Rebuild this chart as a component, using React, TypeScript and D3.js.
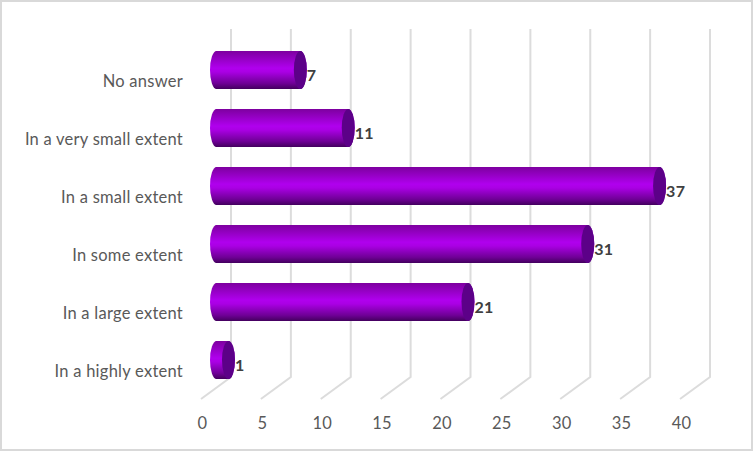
import * as React from "react";
import * as d3 from "d3";

const categories = [
  "No answer",
  "In a very small extent",
  "In a small extent",
  "In some extent",
  "In a large extent",
  "In a highly extent",
];
const values = [7, 11, 37, 31, 21, 1];
const ticks = [0, 5, 10, 15, 20, 25, 30, 35, 40];

const WIDTH = 753;
const HEIGHT = 451;
const WALL_TOP = 29;
const WALL_BOTTOM = 377;
const DEPTH_X = 30;
const DEPTH_Y = 22;
const CAP_RX = 6.5;
const FONT = "Lato, sans-serif";

// back wall of the 3d box, the floor runs forward from it
const x = d3.scaleLinear().domain([0, 40]).range([231, 710]);
const y = d3
  .scaleBand<string>()
  .domain(categories)
  .range([51, 379])
  .paddingInner(20 / 58)
  .paddingOuter(0);
// bars sit half way into the depth of the box
const barX = (v: number) => x(v) - 14.5;

export default function App() {
  const h = y.bandwidth();
  const ry = h / 2;

  return (
    <svg
      width={WIDTH}
      height={HEIGHT}
      style={{ position: "absolute", left: 0, top: 0, background: "#fff" }}
    >
      <defs>
        <linearGradient id="tube" x1="0" y1="0" x2="0" y2="1">
          <stop offset="0" stopColor="#7d009f" />
          <stop offset="0.45" stopColor="#b000ee" />
          <stop offset="0.55" stopColor="#aa00e4" />
          <stop offset="0.85" stopColor="#6f0096" />
          <stop offset="1" stopColor="#43005e" />
        </linearGradient>
      </defs>

      <rect x={1} y={1} width={WIDTH - 2} height={HEIGHT - 2} fill="#fff" stroke="#d9d9d9" strokeWidth={2} />

      {/* Grid */}
      {ticks.map((t) => (
        <path
          key={`grid-${t}`}
          d={`M${x(t)},${WALL_TOP}V${WALL_BOTTOM}l${-DEPTH_X},${DEPTH_Y}`}
          fill="none"
          stroke="#dcdcdc"
          strokeWidth={2}
        />
      ))}

      {/* Bars */}
      {categories.map((c, i) => {
        const top = y(c) ?? 0;
        const cx = barX(values[i]);
        const x0 = barX(0);
        return (
          <g key={c}>
            <path
              d={`M${x0},${top}H${cx}A${CAP_RX},${ry} 0 0 1 ${cx},${top + h}H${x0}A${CAP_RX},${ry} 0 0 1 ${x0},${top}Z`}
              fill="url(#tube)"
            />
            <ellipse cx={cx} cy={top + ry} rx={CAP_RX} ry={ry} fill="#5c0088" />
            <text
              x={cx + CAP_RX}
              y={top + ry + 5}
              dy="0.35em"
              fontFamily={FONT}
              fontWeight={700}
              fontSize={16}
              letterSpacing={0.3}
              fill="#404040"
            >
              {values[i]}
            </text>
          </g>
        );
      })}

      {/* Category labels */}
      {categories.map((c) => (
        <text
          key={`cat-${c}`}
          x={183}
          y={(y(c) ?? 0) + ry + 11}
          dy="0.35em"
          textAnchor="end"
          fontFamily={FONT}
          fontSize={16.5}
          letterSpacing={0.25}
          fill="#595959"
        >
          {c}
        </text>
      ))}

      {/* Value axis labels */}
      {ticks.map((t) => (
        <text
          key={`tick-${t}`}
          x={x(t) - DEPTH_X + 1.5}
          y={423}
          dy="0.35em"
          textAnchor="middle"
          fontFamily={FONT}
          fontSize={16.5}
          letterSpacing={0.25}
          fill="#595959"
        >
          {t}
        </text>
      ))}
    </svg>
  );
}
